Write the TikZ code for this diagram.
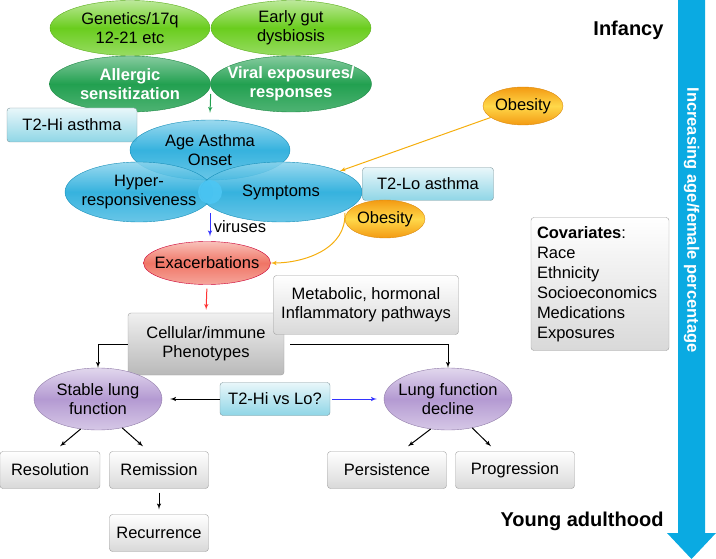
\documentclass[tikz,border=0pt]{standalone}
\usepackage{fontspec}
\setmainfont{Liberation Sans}
\usepackage{tikz}
\usetikzlibrary{shapes,arrows}

\definecolor{limegreen}{HTML}{6ACD1E}
\definecolor{leafgreen}{HTML}{22A050}
\definecolor{skyblue}{HTML}{1AA8DA}
\definecolor{orangeob}{HTML}{F39A12}
\definecolor{yellowob}{HTML}{FFD84A}
\definecolor{salmon}{HTML}{F07565}
\definecolor{lilac}{HTML}{B49AD2}
\definecolor{cyanbox}{HTML}{8FD6E6}
\definecolor{arrowblue}{HTML}{0AAAE2}

\tikzstyle{oval} = [ellipse, inner xsep=-15pt, inner ysep=-4pt, align=center]
\tikzstyle{early} = [oval, draw=limegreen!85!black, top color=limegreen!45!white,
    bottom color=limegreen!70!white, middle color=limegreen, minimum width=160pt, minimum height=55pt]
\tikzstyle{exposure} = [oval, draw=leafgreen!85!black, top color=leafgreen!55!white,
    bottom color=leafgreen!80!white, middle color=leafgreen, minimum width=161pt, minimum height=56pt,
    text=white, font=\bfseries\fontsize{16.5}{19}\selectfont]
\tikzstyle{onset} = [oval, draw=skyblue!85!black, top color=skyblue!50!white,
    bottom color=skyblue!75!white, middle color=skyblue, minimum height=60pt,
    fill opacity=0.88, text opacity=1]
\tikzstyle{obese} = [oval, draw=orangeob!90!black, top color=orangeob,
    bottom color=orangeob, middle color=yellowob, minimum width=80pt, minimum height=38pt]
\tikzstyle{flare} = [oval, draw=red!60!violet, top color=salmon!45!white,
    bottom color=salmon!65!white, middle color=salmon, minimum width=127pt, minimum height=43pt]
\tikzstyle{lung} = [oval, draw=lilac!80!black, top color=lilac!40!white,
    bottom color=lilac!55!white, middle color=lilac, minimum width=128pt, minimum height=62pt]
\tikzstyle{phenotype} = [rectangle, draw=cyanbox!50!black!70, rounded corners=3pt,
    top color=cyanbox!20!white, bottom color=cyanbox, inner sep=0pt]
\tikzstyle{outcome} = [rectangle, draw=gray!75, rounded corners=3pt, top color=white,
    bottom color=gray!30, minimum height=37pt, inner sep=0pt, align=center]
\tikzstyle{line} = [draw, -latex', line width=1pt]

\begin{document}
\begin{tikzpicture}[x=1pt, y=-1pt, font=\fontsize{16.5}{19}\selectfont]
   \useasboundingbox (0,0) rectangle (716,559);
   % age axis
   \fill[arrowblue] (678,0) -- (705,0) -- (705,533) -- (716,533) -- (691.5,559)
      -- (667,533) -- (678,533) -- cycle;
   \node [rotate=-90, text=white, font=\bfseries\fontsize{16.5}{19}\selectfont] (trend)
      at (691.5,220) {Increasing age/female percentage};
   \node [anchor=east, font=\bfseries\fontsize{20}{24}\selectfont] (infancy) at (667,30) {Infancy};
   \node [anchor=east, font=\bfseries\fontsize{20}{24}\selectfont] (adult) at (667,521)
      {Young adulthood};

   % early life
   \node [early] (genetics) at (130,28) {Genetics/17q\\12-21 etc};
   \node [early, right of=genetics, node distance=161pt] (gut) {Early gut\\dysbiosis};
   \node [exposure, below of=genetics, node distance=56pt] (allergic) {Allergic\\sensitization};
   \node [exposure, right of=allergic, node distance=161pt] (viral) {Viral exposures/\\responses};

   \node [phenotype, minimum width=130pt, minimum height=34pt] (t2hi) at (72,125) {T2-Hi asthma};

   % asthma onset
   \node [onset, minimum width=160pt] (onset) at (210,150) {Age Asthma\\Onset};
   \node [onset, minimum width=148pt] (hyper) at (139,192) {Hyper-\\responsiveness};
   \node [onset, minimum width=162pt, right of=hyper, node distance=142pt] (symptoms) {Symptoms};
   \node [circle, fill=cyan!70!white, fill opacity=0.9, minimum size=24pt, inner sep=0pt]
      (hub) at (210,192) {};

   \node [phenotype, minimum width=131pt, minimum height=33pt] (t2lo) at (428,184) {T2-Lo asthma};
   \node [obese] (obesityA) at (523,106) {Obesity};
   \node [obese] (obesityB) at (385,219) {Obesity};

   \node [flare] (exacerb) at (207,263) {Exacerbations};

   \node [outcome, minimum width=156pt, minimum height=62pt, top color=gray!12,
      bottom color=gray!55] (cellular) at (206,344) {Cellular/immune\\Phenotypes};
   \node [outcome, minimum width=185pt, minimum height=59pt] (metabolic) at (366,305)
      {Metabolic, hormonal\\Inflammatory pathways};

   \node [outcome, minimum width=138pt, minimum height=133pt, text width=126pt, align=left,
      font=\fontsize{16.5}{20}\selectfont] (covariates) at (600,284)
      {\textbf{Covariates}:\\Race\\Ethnicity\\Socioeconomics\\Medications\\Exposures};

   % lung function course
   \node [lung] (stable) at (98,399) {Stable lung\\function};
   \node [lung, right of=stable, node distance=350pt] (decline) {Lung function\\decline};
   \node [phenotype, minimum width=110pt, minimum height=33pt] (t2hilo) at (275,399) {T2-Hi vs Lo?};

   \node [outcome, minimum width=100pt] (resolution) at (50,470) {Resolution};
   \node [outcome, minimum width=99pt, right of=resolution, node distance=109pt] (remission)
      {Remission};
   \node [outcome, minimum width=99pt, below of=remission, node distance=63pt] (recurrence)
      {Recurrence};
   \node [outcome, minimum width=119pt] (persistence) at (387,470) {Persistence};
   \node [outcome, minimum width=119pt, right of=persistence, node distance=128pt] (progression)
      {Progression};

   \path [line, draw=leafgreen] ([yshift=-10pt]allergic.east) -- ([yshift=7pt]onset.north);
   \path [line, draw=orangeob!80!yellow] (obesityA) -- (symptoms);
   \path [line, draw=orangeob!80!yellow] ([yshift=6pt]obesityB.west) .. controls +(2pt,-35pt) and +(35pt,0pt)
      .. (exacerb.east);
   \path [line, draw=blue!80, shorten <=9pt, shorten >=5pt] (hub.south) --
      node [right, pos=0.6, text=black] {viruses} (hub.south |- exacerb.north);
   \path [line, draw=red!80, shorten <=4pt, shorten >=3pt] (exacerb.south) -- (cellular.north);
   \path [line] (cellular.west) -| (stable.north);
   \path [line] ([xshift=6pt]cellular.east) -| (decline.north);
   \path [line, shorten >=8pt] (t2hilo.west) -- (stable.east);
   \path [line, draw=blue!80, shorten <=2pt, shorten >=7pt] (t2hilo.east) -- (decline.west);
   \path [line] (stable.-120) -- ([xshift=10pt, yshift=5pt]resolution.north);
   \path [line] (stable.-50) -- ([xshift=-16pt, yshift=5pt]remission.north);
   \path [line, shorten <=4pt, shorten >=5pt] (remission.south) -- (recurrence.north);
   \path [line] (decline.-120) -- ([xshift=21pt, yshift=5pt]persistence.north);
   \path [line] (decline.-50) -- ([xshift=-24pt, yshift=5pt]progression.north);
\end{tikzpicture}
\end{document}
